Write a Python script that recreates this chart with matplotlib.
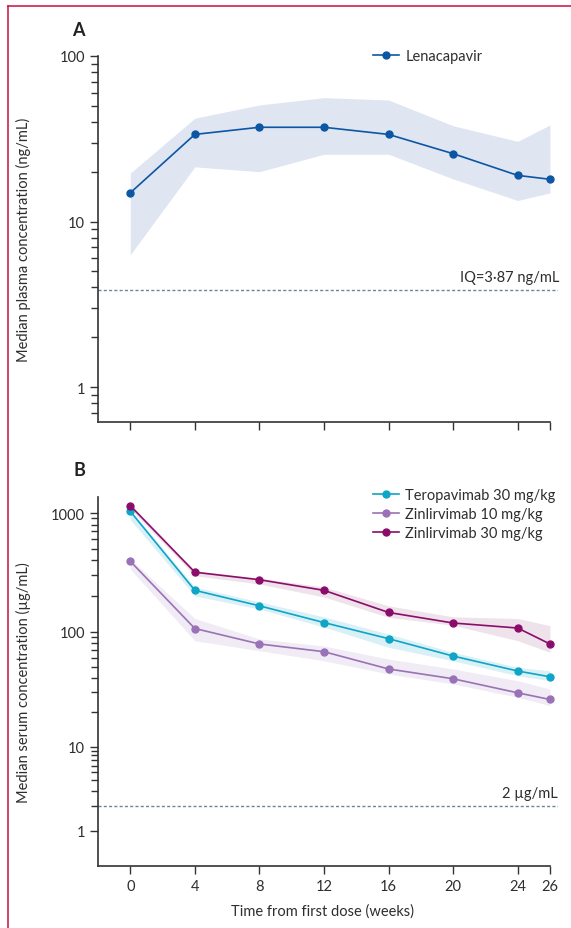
import numpy as np
import matplotlib
matplotlib.use("Agg")
import matplotlib.pyplot as plt
from matplotlib.lines import Line2D
from matplotlib.ticker import LogLocator, FixedLocator, FuncFormatter, NullFormatter

plt.rcParams["font.family"] = ["Lato", "DejaVu Sans"]
plt.rcParams["font.size"] = 10

# time points (weeks)
weeks = [0, 4, 8, 12, 16, 20, 24, 26]
xticks = [0, 4, 8, 12, 16, 20, 24, 26]

# panel A: lenacapavir plasma (ng/mL), median and IQR
len_med = [14.9, 33.6, 37.1, 37.1, 33.6, 25.7, 19.0, 18.0]
len_hi = [19.6, 42.1, 50.6, 56.0, 54.2, 37.9, 30.5, 38.3]
len_lo = [6.3, 21.4, 20.0, 25.5, 25.5, 18.1, 13.4, 14.9]
len_iq = 3.87

# panel B: serum (ug/mL)
tero30_med = [1033, 224, 166, 120, 87.5, 61.8, 45.8, 40.8]
tero30_hi = [1060, 239, 179, 134, 96, 66.6, 49.3, 46.0]
tero30_lo = [880, 201, 156, 110, 73.6, 56.2, 41.7, 37.7]

zin10_med = [393, 107, 78.7, 67.4, 47.7, 39.2, 29.6, 25.9]
zin10_hi = [410, 130, 87, 75.5, 58.2, 47.7, 37.7, 31.9]
zin10_lo = [338, 84, 68.7, 56.2, 43.2, 35.3, 27.1, 22.9]

zin30_med = [1152, 318, 275, 224, 146, 119, 108, 78.7]
zin30_hi = [1190, 327, 284, 239, 166, 134, 130, 113]
zin30_lo = [1080, 297, 253, 197, 133, 114, 84, 66.6]

mab_threshold = 2

C_LEN = "#0b57a3"
C_LEN_BAND = "#dfe5f1"
C_TERO = "#0ea5c6"
C_TERO_BAND = "#d6eff7"
C_Z10 = "#9a72b6"
C_Z10_BAND = "#efe9f4"
C_Z30 = "#8b0d6b"
C_Z30_BAND = "#eddfe9"
C_DASH = "#6f8591"
C_TXT = "#2e2e2e"
C_FRAME = "#c8103f"

# panel B's printed axis has uneven decades, mimic it
dec_log = [0, 1, 2, 3]
dec_pos = [0, 84, 199, 318]


def fwd(v):
    L = np.log10(np.clip(np.asarray(v, dtype=float), 1e-12, None))
    mid = np.interp(L, dec_log, dec_pos)
    return np.where(L < 0, L * 84, np.where(L > 3, 318 + (L - 3) * 119, mid))


def inv(p):
    p = np.asarray(p, dtype=float)
    mid = np.interp(p, dec_pos, dec_log)
    L = np.where(p < 0, p / 84, np.where(p > 318, 3 + (p - 318) / 119, mid))
    return 10 ** L


fig = plt.figure(figsize=(5.71, 9.29), dpi=100)
axA = fig.add_axes([98 / 571, 1 - 423 / 929, 460 / 571, 366 / 929])
axB = fig.add_axes([98 / 571, 1 - 867 / 929, 460 / 571, 369 / 929])

fmt = FuncFormatter(lambda v, p: "%d" % round(v) if v >= 1 else "")

for ax in (axA, axB):
    for s in ("top", "right"):
        ax.spines[s].set_visible(False)
    for s in ("left", "bottom"):
        ax.spines[s].set_linewidth(1.2)
        ax.spines[s].set_color("#333333")
    ax.set_xlim(-2, 26.5)
    ax.spines["bottom"].set_bounds(-2, 26)
    ax.set_xticks(xticks)
    ax.tick_params(which="both", direction="out", width=1.0, colors="#333333",
                   labelcolor=C_TXT, labelsize=10.5, pad=3.5)
    ax.tick_params(which="major", length=5.8)
    ax.tick_params(which="minor", length=5.2)
    ax.tick_params(axis="x", which="minor", bottom=False)

# ---- panel A
axA.set_yscale("log")
axA.set_ylim(0.615, 100)
axA.yaxis.set_major_locator(FixedLocator([1, 10, 100]))
axA.yaxis.set_major_formatter(fmt)
axA.yaxis.set_minor_locator(LogLocator(base=10, subs=np.arange(2, 10), numticks=20))
axA.yaxis.set_minor_formatter(NullFormatter())
axA.set_xticklabels([])

axA.fill_between(weeks, len_lo, len_hi, color=C_LEN_BAND, lw=0, zorder=1)
axA.plot(weeks, len_med, "-o", color=C_LEN, lw=1.2, ms=5, label="Lenacapavir", zorder=3)
axA.plot([-2, 26.5], [len_iq, len_iq], ls=(0, (2.2, 1.6)), color=C_DASH, lw=1.0, zorder=2)
axA.annotate("IQ=3\u00b787 ng/mL", (26.5, len_iq), xytext=(1, 4), textcoords="offset points",
             ha="right", va="bottom", fontsize=10.5, color=C_TXT, annotation_clip=False)
axA.set_ylabel("Median plasma concentration (ng/mL)", fontsize=10.5, color=C_TXT)
axA.yaxis.set_label_coords(-0.145, 0.5)
axA.legend(loc="center left", bbox_to_anchor=(0.598, 1.0), frameon=False,
           borderpad=0, borderaxespad=0, handlelength=1.75, handletextpad=0.45,
           fontsize=10.5, labelcolor=C_TXT)

# ---- panel B
axB.set_yscale("function", functions=(fwd, inv))
axB.set_ylim(0.383, 1363)
axB.yaxis.set_major_locator(FixedLocator([1, 10, 100, 1000]))
axB.yaxis.set_major_formatter(fmt)
minors = [m * 10 ** e for e in range(0, 3) for m in range(2, 10)]
axB.yaxis.set_minor_locator(FixedLocator(minors))
axB.yaxis.set_minor_formatter(NullFormatter())

series = [
    ("Teropavimab 30 mg/kg", tero30_med, tero30_lo, tero30_hi, C_TERO, C_TERO_BAND),
    ("Zinlirvimab 10 mg/kg", zin10_med, zin10_lo, zin10_hi, C_Z10, C_Z10_BAND),
    ("Zinlirvimab 30 mg/kg", zin30_med, zin30_lo, zin30_hi, C_Z30, C_Z30_BAND),
]
for name, med, lo, hi, c, cb in series:
    axB.fill_between(weeks, lo, hi, color=cb, lw=0, zorder=1, alpha=0.9)
for name, med, lo, hi, c, cb in series:
    axB.plot(weeks, med, "-o", color=c, lw=1.2, ms=5, label=name, zorder=3)

axB.plot([-2, 26.5], [mab_threshold, mab_threshold], ls=(0, (2.2, 1.6)), color=C_DASH, lw=1.0, zorder=2)
axB.annotate("2 \u00b5g/mL", (26.5, mab_threshold), xytext=(0, 4), textcoords="offset points",
             ha="right", va="bottom", fontsize=10.5, color=C_TXT, annotation_clip=False)
axB.set_ylabel("Median serum concentration (\u00b5g/mL)", fontsize=10.5, color=C_TXT)
axB.yaxis.set_label_coords(-0.145, 0.5)
axB.set_xlabel("Time from first dose (weeks)", fontsize=10.5, color=C_TXT)
axB.xaxis.set_label_coords(0.489, -0.1)
axB.legend(loc="upper left", bbox_to_anchor=(0.598, 1.025), frameon=False,
           borderpad=0, borderaxespad=0, handlelength=1.75, handletextpad=0.45,
           labelspacing=0.35, fontsize=10.5, labelcolor=C_TXT)

# panel letters
fig.text(78 / 571, 1 - 30 / 929, "A", ha="center", va="center", fontsize=13,
         fontweight="bold", color="#222222")
fig.text(79 / 571, 1 - 470 / 929, "B", ha="center", va="center", fontsize=13,
         fontweight="bold", color="#222222")

# journal frame
fig.add_artist(Line2D([8.3 / 571, 8.3 / 571], [0, 1 - 6.5 / 929], transform=fig.transFigure,
                      color=C_FRAME, lw=1.1))
fig.add_artist(Line2D([8.3 / 571, 1], [1 - 6.5 / 929, 1 - 6.5 / 929], transform=fig.transFigure,
                      color=C_FRAME, lw=1.1))

fig.savefig("out.png", dpi=100)
